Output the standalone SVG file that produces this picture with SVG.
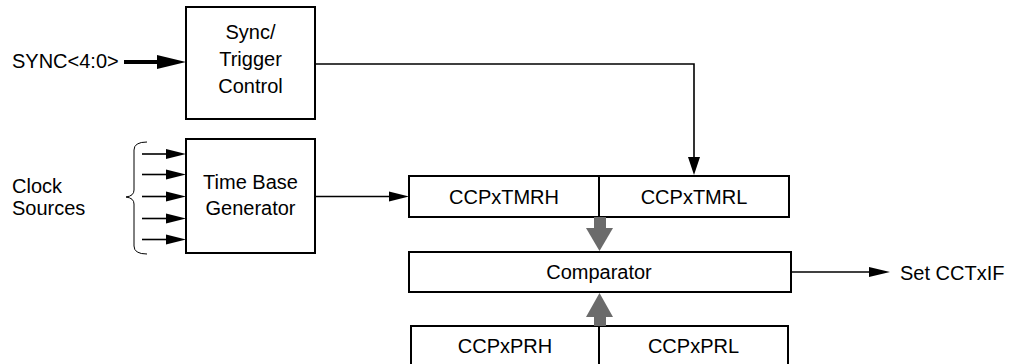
<svg xmlns="http://www.w3.org/2000/svg" width="1012" height="364" viewBox="0 0 1012 364">
<style>
.box{fill:#fff;stroke:#000;stroke-width:2}
.t{font-family:"Liberation Sans",Arial,sans-serif;font-size:20px;fill:#000}
.m{text-anchor:middle}
.ln{fill:none;stroke:#000;stroke-width:1.6}
.ah{fill:#000}
.g{fill:#6b6b6b}
</style>
<rect width="1012" height="364" fill="#fff"/>
<g id="sync-label"><text class="t" x="12" y="68">SYNC&lt;4:0&gt;</text></g>
<g id="clock-label"><text class="t" x="12" y="193">Clock</text><text class="t" x="12" y="215">Sources</text></g>
<g id="sync-trigger">
<rect class="box" x="186" y="7" width="129" height="112"/>
<text class="t m" x="250.5" y="39">Sync/</text>
<text class="t m" x="250.5" y="66">Trigger</text>
<text class="t m" x="250.5" y="93">Control</text>
</g>
<g id="time-base">
<rect class="box" x="186" y="139" width="129" height="114"/>
<text class="t m" x="250.5" y="189">Time Base</text>
<text class="t m" x="250.5" y="215">Generator</text>
</g>
<g id="tmr">
<rect class="box" x="409" y="176" width="380" height="41"/>
<line x1="599" y1="176" x2="599" y2="217" stroke="#000" stroke-width="2"/>
<text class="t m" x="504" y="204">CCPxTMRH</text>
<text class="t m" x="694" y="204">CCPxTMRL</text>
</g>
<g id="comparator">
<rect class="box" x="409" y="252" width="382" height="40"/>
<text class="t m" x="599" y="279">Comparator</text>
</g>
<g id="pr">
<rect class="box" x="411" y="326" width="377" height="50"/>
<line x1="599" y1="326" x2="599" y2="364" stroke="#000" stroke-width="2"/>
<text class="t m" x="505" y="353">CCPxPRH</text>
<text class="t m" x="693.5" y="353">CCPxPRL</text>
</g>
<g id="set-label"><text class="t" x="900" y="280">Set CCTxIF</text></g>
<g id="connectors">
<line x1="124" y1="62" x2="160" y2="62" stroke="#000" stroke-width="4"/>
<polygon class="ah" points="157,55 186,62 157,69"/>
<polyline class="ln" points="315,64 694,64 694,158"/>
<polygon class="ah" points="688,157 700,157 694,175"/>
<g>
<line class="ln" x1="142" y1="154" x2="168" y2="154"/><polygon class="ah" points="166,149 186,154 166,159"/>
<line class="ln" x1="142" y1="174.5" x2="168" y2="174.5"/><polygon class="ah" points="166,169.5 186,174.5 166,179.5"/>
<line class="ln" x1="142" y1="196.5" x2="168" y2="196.5"/><polygon class="ah" points="166,191.5 186,196.5 166,201.5"/>
<line class="ln" x1="142" y1="218.5" x2="168" y2="218.5"/><polygon class="ah" points="166,213.5 186,218.5 166,223.5"/>
<line class="ln" x1="142" y1="239.5" x2="168" y2="239.5"/><polygon class="ah" points="166,234.5 186,239.5 166,244.5"/>
</g>
<path d="M147,142 Q134,142 134,150 L134,190 Q134,196 126,197 Q134,198 134,204 L134,246 Q134,254 147,254" fill="none" stroke="#000" stroke-width="1"/>
<line class="ln" x1="315" y1="196.5" x2="392" y2="196.5"/>
<polygon class="ah" points="389,191.5 409,196.5 389,201.5"/>
<rect class="g" x="594" y="217" width="12" height="12"/>
<polygon class="g" points="586,228 613,228 599.5,251"/>
<rect class="g" x="594" y="316" width="12" height="10"/>
<polygon class="g" points="586,317 613,317 599.5,293"/>
<line class="ln" x1="791" y1="272" x2="872" y2="272"/>
<polygon class="ah" points="869,267 890,272 869,277"/>
</g>
</svg>
